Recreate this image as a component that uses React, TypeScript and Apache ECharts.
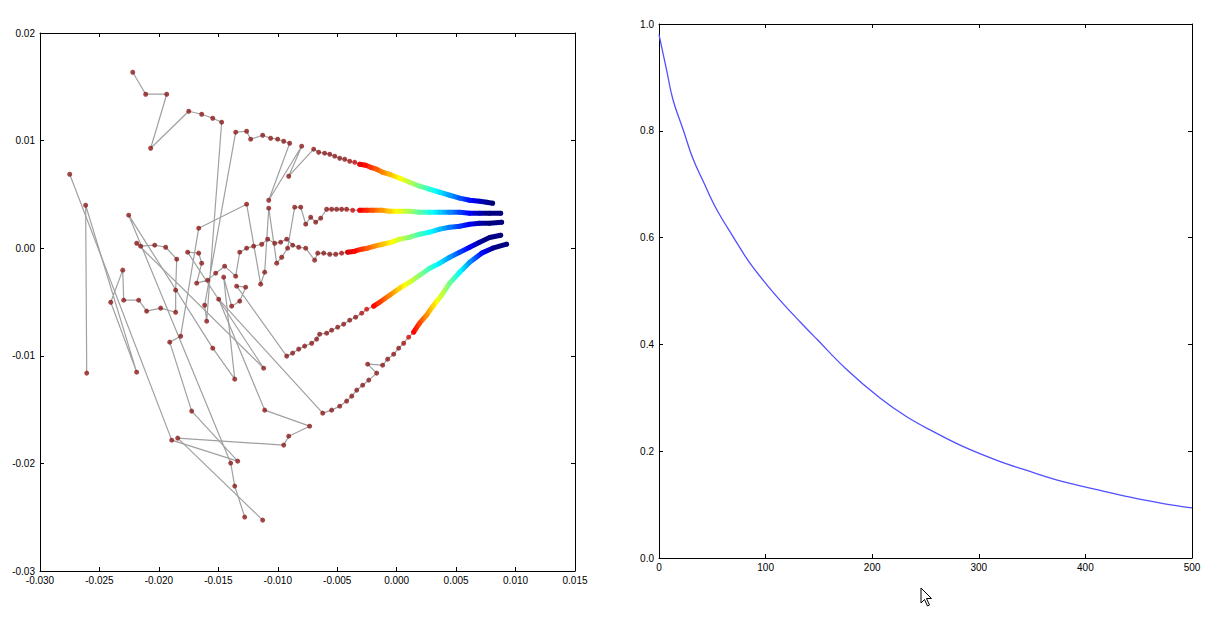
import React, { useEffect, useRef } from "react";
import * as echarts from "echarts";

// ---------- Left panel: five trajectories (x, y) ----------
const t1Chaos: number[][] = [
  [-0.0222, 0.01635], [-0.02111, 0.01431], [-0.01934, 0.01431], [-0.02069, 0.00929],
  [-0.01749, 0.01273], [-0.0164, 0.01245], [-0.01547, 0.01208], [-0.01472, 0.01171],
  [-0.01598, -0.00678], [-0.01615, -0.0053], [-0.01354, 0.01078], [-0.01262, 0.01087],
  [-0.01228, 0.01013], [-0.01127, 0.0105], [-0.0106, 0.01022], [-0.01001, 0.01013],
  [-0.0095, 0.00994], [-0.009, 0.00975], [-0.01076, 0.00446], [-0.00799, 0.00948],
  [-0.00908, 0.00669], [-0.00698, 0.0092],
];
const t1Tail: number[][] = [
  [-0.00656, 0.00892], [-0.00606, 0.00883], [-0.00563, 0.00873], [-0.00521, 0.00855],
  [-0.00479, 0.00836], [-0.00437, 0.00827], [-0.00395, 0.00808], [-0.00353, 0.00799],
  [-0.00311, 0.0078], [-0.00261, 0.00771], [-0.00219, 0.00752], [-0.00168, 0.00734],
  [-0.00118, 0.00706], [-0.00059, 0.00687], [0.00025, 0.0065], [0.00109, 0.00613],
  [0.00193, 0.00576], [0.00278, 0.00548], [0.00362, 0.0052], [0.00446, 0.00492],
  [0.0053, 0.00465], [0.00614, 0.00446], [0.00698, 0.00437], [0.00757, 0.00427],
  [0.00807, 0.00418],
];

const t2Chaos: number[][] = [
  [-0.0275, 0.00687], [-0.01892, -0.01784], [-0.01337, -0.01979], [-0.01724, -0.01514],
  [-0.01909, -0.00873], [-0.01817, -0.00818], [-0.01665, 0.00186], [-0.01262, 0.00409],
  [-0.01144, -0.00334], [-0.0111, -0.00223], [-0.01076, 0.00372], [-0.01009, -0.00139],
  [-0.00967, -0.00084], [-0.00917, 0.0], [-0.00858, 0.00381], [-0.00807, 0.00381],
  [-0.00765, 0.00223], [-0.00723, 0.00288], [-0.00681, 0.00242], [-0.00639, 0.00279],
];
const t2Tail: number[][] = [
  [-0.00589, 0.00362], [-0.00547, 0.00362], [-0.00505, 0.00362], [-0.00463, 0.00362],
  [-0.00421, 0.00362], [-0.0037, 0.00353], [-0.00311, 0.00353], [-0.00252, 0.00353],
  [-0.00202, 0.00353], [-0.00126, 0.00353], [-0.00059, 0.00344], [0.00025, 0.00344],
  [0.00109, 0.00344], [0.00193, 0.00334], [0.00278, 0.00334], [0.00362, 0.00334],
  [0.00446, 0.00334], [0.0053, 0.00334], [0.00614, 0.00325], [0.00698, 0.00325],
  [0.00782, 0.00325], [0.00875, 0.00325],
];

const t3Chaos: number[][] = [
  [-0.02607, -0.01161], [-0.02616, 0.00399], [-0.02187, -0.01152], [-0.02405, -0.00502],
  [-0.02304, -0.00204], [-0.02296, -0.00483], [-0.0217, -0.00483], [-0.02103, -0.00585],
  [-0.01985, -0.00557], [-0.01859, -0.00595], [-0.01859, -0.0039], [-0.0185, -0.00102],
  [-0.01943, 0.00009], [-0.02035, 0.00028], [-0.02153, 0.00019], [-0.02187, 0.00046],
  [-0.01119, -0.01115], [-0.01758, -0.00037], [-0.01665, -0.00046], [-0.0164, -0.00139],
  [-0.01682, -0.00325], [-0.01589, -0.00297], [-0.01522, -0.00232], [-0.01447, -0.00167],
  [-0.01354, -0.0026], [-0.0132, -0.00037], [-0.01262, 0.0], [-0.01203, 0.00019],
  [-0.01135, 0.00037], [-0.01085, 0.00084], [-0.01026, 0.00046], [-0.00976, 0.00056],
  [-0.00925, 0.00084], [-0.00875, 0.00028], [-0.00824, 0.00009], [-0.00765, 0.0],
  [-0.0069, -0.00111], [-0.00664, -0.00046],
];
const t3Tail: number[][] = [
  [-0.00614, -0.00046], [-0.00563, -0.00056], [-0.00513, -0.00056], [-0.00463, -0.00046],
  [-0.00412, -0.00037], [-0.00353, -0.00028], [-0.00294, -0.00009], [-0.00244, 0.0],
  [-0.00185, 0.00019], [-0.00118, 0.00037], [-0.00042, 0.00056], [0.00025, 0.00084],
  [0.00109, 0.00102], [0.00193, 0.0013], [0.00278, 0.00149], [0.00362, 0.00177],
  [0.00446, 0.00195], [0.0053, 0.00204], [0.00614, 0.00223], [0.00698, 0.00232],
  [0.00782, 0.00232], [0.00883, 0.00242],
];

const t4Chaos: number[][] = [
  [-0.01278, -0.02499], [-0.01362, -0.02211], [-0.01396, -0.01997], [-0.02254, 0.00307],
  [-0.01547, -0.00929], [-0.01362, -0.01217], [-0.01455, -0.00269], [-0.01388, -0.00539],
  [-0.0132, -0.00492], [-0.0127, -0.00362], [-0.01346, -0.00353],
];
const t4Tail: number[][] = [
  [-0.00925, -0.01003], [-0.00875, -0.00975], [-0.00824, -0.00938], [-0.00774, -0.0091],
  [-0.00715, -0.00883], [-0.00673, -0.00845], [-0.00648, -0.00799], [-0.00589, -0.0079],
  [-0.00547, -0.00762], [-0.00496, -0.00734], [-0.00446, -0.00706], [-0.00395, -0.00669],
  [-0.00345, -0.00641], [-0.00294, -0.00604], [-0.00252, -0.00567], [-0.00193, -0.00539],
  [-0.00143, -0.00502], [-0.00059, -0.00437], [0.00025, -0.00372], [0.00109, -0.00316],
  [0.00193, -0.00251], [0.00278, -0.00186], [0.00362, -0.00139], [0.00446, -0.00084],
  [0.0053, -0.00037], [0.00614, 0.00009], [0.00698, 0.00056], [0.00782, 0.00099],
  [0.00875, 0.00121],
];

const t5Chaos: number[][] = [
  [-0.01127, -0.02527], [-0.01842, -0.01765], [-0.0095, -0.0183], [-0.00908, -0.01747],
  [-0.00732, -0.01654], [-0.0111, -0.01505], [-0.01497, -0.00474],
];
const t5Tail: number[][] = [
  [-0.00622, -0.01533], [-0.00547, -0.01505], [-0.00479, -0.01468], [-0.00421, -0.01421],
  [-0.00378, -0.01375], [-0.00336, -0.01319], [-0.00286, -0.01273], [-0.00235, -0.01226],
  [-0.00168, -0.01161], [-0.00244, -0.01078], [-0.00118, -0.01087], [-0.00076, -0.01031],
  [-0.00025, -0.00985], [0.00017, -0.00929], [0.00059, -0.00883], [0.00101, -0.00827],
  [0.00143, -0.0078], [0.00193, -0.00697], [0.00252, -0.00622], [0.00311, -0.0053],
  [0.00378, -0.00437], [0.00446, -0.00325], [0.0053, -0.00223], [0.00614, -0.0013],
  [0.00715, -0.00046], [0.00807, 0.0], [0.00925, 0.00037],
];

// x-range over which each trajectory's colour runs from dark red to dark blue
const colorRanges: number[][] = [
  [-0.00429, 0.00782],
  [-0.00454, 0.00757],
  [-0.00521, 0.00757],
  [-0.00336, 0.0074],
  [0.00042, 0.00824],
];

// ---------- Right panel: decaying curve ----------
const iterations = [0, 7, 13, 23, 32, 42, 54, 70, 85, 101, 117, 132, 148, 175, 207, 232, 257, 285, 317, 348, 379, 411, 442, 473, 500];
const curveValues = [0.98, 0.915, 0.859, 0.8, 0.747, 0.703, 0.653, 0.6, 0.553, 0.512, 0.475, 0.443, 0.41, 0.355, 0.3, 0.265, 0.237, 0.209, 0.183, 0.162, 0.143, 0.128, 0.114, 0.102, 0.094];

const JET_R = ["#8b1a1a", "#ff0000", "#ff8000", "#ffff00", "#80ff80", "#00ffff", "#0080ff", "#0000ff", "#000080"];
const FONT = "'Liberation Sans', Arial, sans-serif";

const trajectories = [
  { chaos: t1Chaos, tail: t1Tail, range: colorRanges[0] },
  { chaos: t2Chaos, tail: t2Tail, range: colorRanges[1] },
  { chaos: t3Chaos, tail: t3Tail, range: colorRanges[2] },
  { chaos: t4Chaos, tail: t4Tail, range: colorRanges[3] },
  { chaos: t5Chaos, tail: t5Tail, range: colorRanges[4] },
];

function axisBase(grid: number, min: number, max: number, interval: number, fmt: ((v: number) => string) | null, pos: string) {
  return {
    type: "value",
    gridIndex: grid,
    position: pos,
    min,
    max,
    interval,
    axisLine: { show: true, onZero: false, lineStyle: { color: "#000", width: 1 } },
    axisTick: { show: true, inside: true, length: 4, lineStyle: { color: "#000", width: 1 } },
    axisLabel: fmt
      ? { show: true, formatter: fmt, color: "#000", fontSize: 10, fontFamily: FONT, margin: pos === "bottom" ? 4 : 5 }
      : { show: false },
    splitLine: { show: false },
  };
}

function buildOption() {
  const series: any[] = [];
  trajectories.forEach((t) => {
    series.push({
      type: "line",
      xAxisIndex: 0,
      yAxisIndex: 0,
      data: [...t.chaos, ...t.tail],
      symbol: "none",
      lineStyle: { color: "#a0a0a0", width: 1.2 },
      z: 2,
      silent: true,
    });
  });
  trajectories.forEach((t) => {
    const start = t.range[0] + 0.08 * (t.range[1] - t.range[0]);
    series.push({
      type: "line",
      xAxisIndex: 0,
      yAxisIndex: 0,
      data: t.tail.filter((p) => p[0] >= start),
      symbol: "none",
      lineStyle: { width: 5, cap: "round", join: "round" },
      z: 3,
      silent: true,
    });
  });
  trajectories.forEach((t) => {
    series.push({
      type: "scatter",
      xAxisIndex: 0,
      yAxisIndex: 0,
      data: [...t.chaos, ...t.tail],
      symbolSize: 5,
      z: 4,
      silent: true,
    });
  });
  series.push({
    type: "line",
    xAxisIndex: 2,
    yAxisIndex: 2,
    data: iterations.map((x, i) => [x, curveValues[i]]),
    smooth: 0.4,
    symbol: "none",
    lineStyle: { color: "#5050ff", width: 1.3 },
    z: 3,
    silent: true,
  });

  const visualMap = trajectories.map((t, i) => ({
    type: "continuous",
    show: false,
    dimension: 0,
    seriesIndex: [5 + i, 10 + i],
    min: t.range[0],
    max: t.range[1],
    inRange: { color: JET_R },
    outOfRange: { color: JET_R },
  }));

  return {
    animation: false,
    backgroundColor: "#ffffff",
    grid: [
      { left: 40, top: 33, width: 535, height: 538 },
      { left: 659, top: 24, width: 533, height: 534 },
    ],
    xAxis: [
      axisBase(0, -0.03, 0.015, 0.005, (v) => v.toFixed(3), "bottom"),
      axisBase(0, -0.03, 0.015, 0.005, null, "top"),
      axisBase(1, 0, 500, 100, (v) => String(Math.round(v)), "bottom"),
      axisBase(1, 0, 500, 100, null, "top"),
    ],
    yAxis: [
      axisBase(0, -0.03, 0.02, 0.01, (v) => v.toFixed(2), "left"),
      axisBase(0, -0.03, 0.02, 0.01, null, "right"),
      axisBase(1, 0, 1, 0.2, (v) => v.toFixed(1), "left"),
      axisBase(1, 0, 1, 0.2, null, "right"),
    ],
    visualMap,
    series,
    graphic: [
      {
        type: "polygon",
        silent: true,
        shape: {
          points: [
            [921, 588], [921, 603], [924.5, 599.5], [927.5, 606], [929.5, 605], [926.5, 598.5], [931.5, 598.5],
          ],
        },
        style: { fill: "#ffffff", stroke: "#000000", lineWidth: 1 },
        z: 100,
      },
    ],
  };
}

export default function App() {
  const ref = useRef<HTMLDivElement>(null);
  useEffect(() => {
    if (!ref.current) return;
    const chart = echarts.init(ref.current, undefined, { renderer: "svg", width: 1229, height: 617 });
    chart.setOption(buildOption() as any);
    return () => chart.dispose();
  }, []);
  return (
    <div
      ref={ref}
      style={{ position: "fixed", left: 0, top: 0, width: 1229, height: 617, background: "#ffffff" }}
    />
  );
}
